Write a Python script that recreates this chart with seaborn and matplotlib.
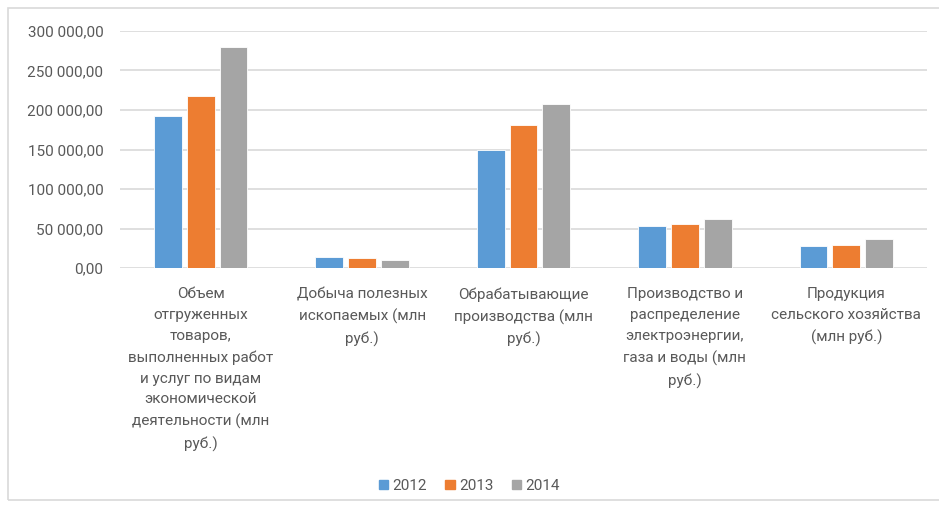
import numpy as np
import pandas as pd
import matplotlib
matplotlib.use("Agg")
import matplotlib.pyplot as plt
import matplotlib.patches as mpatches
from matplotlib.ticker import FuncFormatter
import seaborn as sns

categories = [
    "Объем\nотгруженных\nтоваров,\nвыполненных работ\nи услуг по видам\nэкономической\nдеятельности (млн\nруб.)",
    "Добыча полезных\nископаемых (млн\nруб.)",
    "Обрабатывающие\nпроизводства (млн\nруб.)",
    "Производство и\nраспределение\nэлектроэнергии,\nгаза и воды (млн\nруб.)",
    "Продукция\nсельского хозяйства\n(млн руб.)",
]
years = ["2012", "2013", "2014"]
v2012 = [192000, 14000, 150000, 52900, 27500]
v2013 = [218000, 12700, 181000, 55400, 28800]
v2014 = [280000, 10600, 207000, 61700, 37200]
colors = ["#5B9BD5", "#ED7D31", "#A5A5A5"]

df = pd.DataFrame({
    "cat": categories * 3,
    "year": [y for y in years for _ in categories],
    "value": v2012 + v2013 + v2014,
})

sns.set_theme(style="white")
plt.rcParams["font.family"] = ["Roboto", "DejaVu Sans"]
text_col = "#595959"

fig = plt.figure(figsize=(9.39, 5.08), dpi=100)
ax = fig.add_axes([120 / 939, 1 - 268 / 508, 807 / 939, 237 / 508])

sns.barplot(data=df, x="cat", y="value", hue="year", palette=colors,
            saturation=1, width=0.61, gap=0.15, ax=ax, legend=False,
            edgecolor="white", linewidth=0.6, zorder=3)

ax.set_ylim(0, 300000)
ax.set_yticks(np.arange(0, 300001, 50000))
ax.yaxis.set_major_formatter(FuncFormatter(
    lambda v, p: f"{v:,.2f}".replace(",", " ").replace(".", ",")))
ax.grid(axis="y", color="#D9D9D9", linewidth=1.2, zorder=0)
ax.set_axisbelow(True)
for s in ax.spines.values():
    s.set_visible(False)
ax.set_xlabel("")
ax.set_ylabel("")
ax.tick_params(axis="y", colors=text_col, labelsize=11, length=0, pad=12)
ax.tick_params(axis="x", colors=text_col, labelsize=11, length=0, pad=14)
for lbl in ax.get_xticklabels():
    lbl.set_linespacing(1.62)
    lbl.set_ha("center")

handles = [mpatches.Patch(color=c, label=y) for c, y in zip(colors, years)]
fig.legend(handles=handles, loc="center", bbox_to_anchor=(0.5, 1 - 486 / 508),
           ncol=3, frameon=False, fontsize=11, labelcolor=text_col,
           handlelength=0.6, handleheight=0.6, handletextpad=0.3,
           columnspacing=1.2)

border = mpatches.Rectangle((8 / 939, 1 - 500 / 508), 935 / 939, 492 / 508,
                            transform=fig.transFigure, fill=False,
                            edgecolor="#D9D9D9", linewidth=1.2)
fig.patches.append(border)

fig.savefig("out.png", dpi=100)
